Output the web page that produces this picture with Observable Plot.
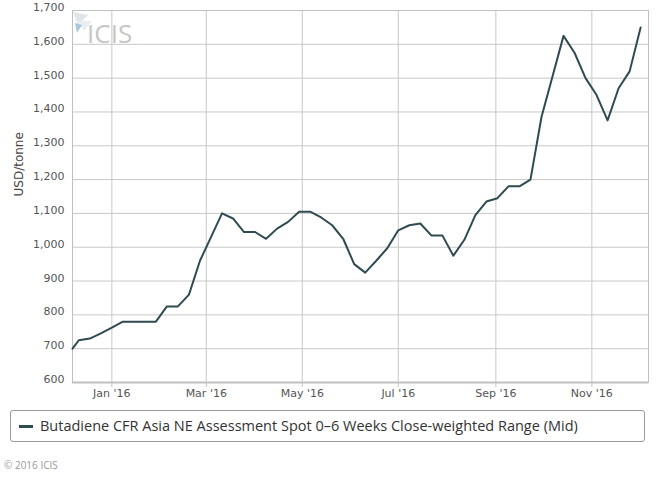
<!DOCTYPE html>
<html>
<head>
<meta charset="utf-8">
<script src="https://cdn.jsdelivr.net/npm/d3@7"></script>
<script src="https://cdn.jsdelivr.net/npm/@observablehq/plot@0.6"></script>
<style>
  html, body { margin: 0; padding: 0; background: #fff; }
  #wrap { position: relative; width: 668px; height: 478px; font-family: "DejaVu Sans", sans-serif; }
  #logo { position: absolute; left: 72px; top: 11px; }
  #wm { position: absolute; left: 87px; top: 20px; font-family: "Open Sans", sans-serif; font-size: 26px; color: #c6c6c6; line-height: 1; }
  #legend { position: absolute; left: 10px; top: 410px; width: 635px; height: 32px; border: 1px solid #9a9a9a; border-radius: 3px; box-sizing: border-box; }
  #legend .sw { position: absolute; left: 8px; top: 14px; width: 14px; height: 3px; background: #2f4b50; }
  #legend .tx { position: absolute; left: 29px; top: 5px; font-family: "Open Sans", sans-serif; font-size: 14.5px; color: #333; white-space: nowrap; }
  #copy { position: absolute; left: 4px; top: 458px; font-family: "Open Sans", sans-serif; font-size: 10px; color: #999; }
</style>
</head>
<body>
<div id="wrap">
  <div id="chart"></div>
  <svg id="logo" width="26" height="26" viewBox="0 0 26 26">
    <polygon points="1,1 16,4 6,14" fill="#dfe6ea"/>
    <polygon points="6,10 20,10 12,20" fill="#e8eef2"/>
    <polygon points="3,12 10,14 5,22" fill="#a9c6da"/>
  </svg>
  <div id="wm">ICIS</div>
  <div id="legend"><div class="sw"></div><div class="tx">Butadiene CFR Asia NE Assessment Spot 0–6 Weeks Close-weighted Range (Mid)</div></div>
  <div id="copy">© 2016 ICIS</div>
</div>
<script>
const dates = [
  "2015-12-07","2015-12-11","2015-12-18","2015-12-25",
  "2016-01-01","2016-01-08","2016-01-15","2016-01-22","2016-01-29",
  "2016-02-05","2016-02-12","2016-02-19","2016-02-26",
  "2016-03-04","2016-03-11","2016-03-18","2016-03-25",
  "2016-04-01","2016-04-08","2016-04-15","2016-04-22","2016-04-29",
  "2016-05-06","2016-05-13","2016-05-20","2016-05-27",
  "2016-06-03","2016-06-10","2016-06-17","2016-06-24",
  "2016-07-01","2016-07-08","2016-07-15","2016-07-22","2016-07-29",
  "2016-08-05","2016-08-12","2016-08-19","2016-08-26",
  "2016-09-02","2016-09-09","2016-09-16","2016-09-23","2016-09-30",
  "2016-10-07","2016-10-14","2016-10-21","2016-10-28",
  "2016-11-04","2016-11-11","2016-11-18","2016-11-25",
  "2016-12-02"
];
const prices = [
  700, 725, 730, 745,
  762, 780, 780, 780, 780,
  825, 825, 860, 960,
  1030, 1100, 1085, 1045,
  1045, 1025, 1055, 1075, 1105,
  1105, 1088, 1065, 1025,
  950, 925, 960, 997,
  1050, 1065, 1070, 1035, 1035,
  975, 1022, 1095, 1135,
  1145, 1180, 1180, 1200, 1385,
  1505, 1625, 1575, 1500,
  1450, 1375, 1470, 1520,
  1650
];
const xTickDates = ["2016-01-01","2016-03-01","2016-05-01","2016-07-01","2016-09-01","2016-11-01"];
const yTicks = [600,700,800,900,1000,1100,1200,1300,1400,1500,1600,1700];
const xDomain = ["2015-12-07","2016-12-07"];
const yLabel = "USD/tonne";
const seriesName = "Butadiene CFR Asia NE Assessment Spot 0–6 Weeks Close-weighted Range (Mid)";

const data = dates.map((d, i) => ({date: new Date(d + "T00:00:00Z"), value: prices[i]}));
const xTicks = xTickDates.map(d => new Date(d + "T00:00:00Z"));

const chart = Plot.plot({
  width: 668,
  height: 400,
  marginTop: 10,
  marginLeft: 72,
  marginRight: 20,
  marginBottom: 18,
  style: {fontFamily: "DejaVu Sans, sans-serif", fontSize: "11px", color: "#555", background: "transparent"},
  x: {type: "utc", domain: xDomain.map(d => new Date(d + "T00:00:00Z"))},
  y: {domain: [600, 1700]},
  marks: [
    Plot.gridX(xTicks, {stroke: "#c8c8c8", strokeOpacity: 1}),
    Plot.gridY(yTicks, {stroke: "#c8c8c8", strokeOpacity: 1}),
    Plot.frame({stroke: "#c0c0c0"}),
    Plot.ruleY([600], {stroke: "#c0c0c0", strokeWidth: 2}),
    Plot.axisX(xTicks, {tickFormat: d3.utcFormat("%b '%y"), tickSize: 5, stroke: "#c8c8c8", tickPadding: 2, fill: "#555", label: null}),
    Plot.axisY(yTicks, {tickFormat: d3.format(","), tickSize: 0, tickPadding: 8, dy: -3, fill: "#555", label: null}),
    Plot.text([yLabel], {frameAnchor: "left", rotate: -90, dx: -53, fontSize: 12, fill: "#444"}),
    Plot.line(data, {x: "date", y: "value", stroke: "#2f4b50", strokeWidth: 2, title: () => seriesName})
  ]
});
document.getElementById("chart").appendChild(chart);
</script>
</body>
</html>
